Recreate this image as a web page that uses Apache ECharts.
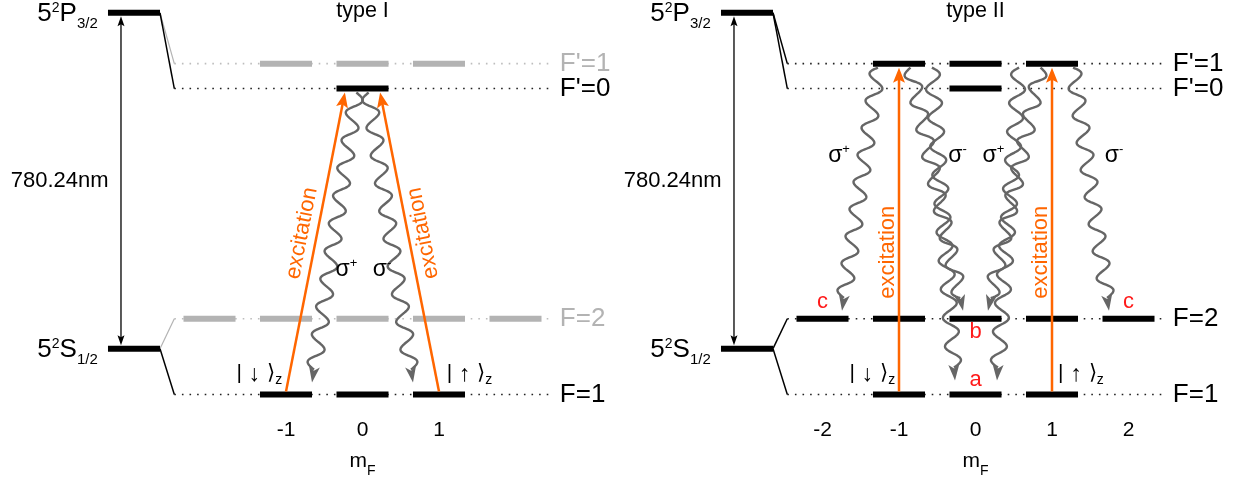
<!DOCTYPE html>
<html><head><meta charset="utf-8">
<script src="https://cdn.jsdelivr.net/npm/echarts@6/dist/echarts.min.js"></script>
<style>html,body{margin:0;padding:0;background:#fff}#c{width:1247px;height:483px}</style>
</head><body><div id="c"></div>
<script>
// ---------------- data ----------------
// hyperfine levels (schematic energy, arbitrary units)
const levelNames  = ["F'=1", "F'=0", "F=2", "F=1"];
const levelEnergy = [332, 307, 76, 0];
const levelParent = [0, 0, 1, 1];            // index into fine levels
// fine-structure levels: [n, 2S+1, L, J]
const fineTerms   = [["5", "2", "P", "3/2"], ["5", "2", "S", "1/2"]];
const fineEnergy  = [383, 46];
const wavelengthLabel = "780.24nm";

const panelTitles = ["type I", "type II"];
const mFTicks1 = [-1, 0, 1];
const mFTicks2 = [-2, -1, 0, 1, 2];
// Zeeman sub-levels: [m_F, level index]
const sublevels1 = [[-1,0],[0,0],[1,0],[0,1],[-2,2],[-1,2],[0,2],[1,2],[2,2],[-1,3],[0,3],[1,3]];
const sublevels2 = [[-1,0],[0,0],[1,0],[0,1],[-2,2],[-1,2],[0,2],[1,2],[2,2],[-1,3],[0,3],[1,3]];
const fadedLevels1 = [0, 2];
const fadedLevels2 = [];
// excitation: [m_F from, level from, m_F to, level to]
const excitation1 = [[-1, 3, -0.23, 1], [1, 3, 0.23, 1]];
const excitation2 = [[-1, 3, -1, 0], [1, 3, 1, 0]];
// spontaneous decay: [m_F from, level from, m_F to, level to]
const decay1 = [[-0.08, 1, -0.66, 3], [0.08, 1, 0.66, 3]];
const decay2 = [[-1.275, 0, -1.745, 2], [-0.85, 0, -0.163, 2], [-0.57, 0, -0.268, 3],
                [0.85, 0, 0.163, 2], [0.57, 0, 0.281, 3], [1.275, 0, 1.745, 2]];
// polarisation labels: [m_F, energy, sign]
const pol1 = [[-0.21, 124, "+"], [0.255, 124, "-"]];
const pol2 = [[-1.784, 238, "+"], [-0.235, 238, "-"], [0.235, 238, "+"], [1.81, 238, "-"]];
// state marks: [m_F, energy, text]
const marks1 = [];
const marks2 = [[-2, 93, "c"], [2, 93, "c"], [0, 63, "b"], [0, 15, "a"]];
// spin kets: [m_F, energy, arrow]
const kets1 = [[-1.05, 19, "↓"], [1.1, 19, "↑"]];
const kets2 = [[-1.05, 19, "↓"], [1.08, 19, "↑"]];

// ---------------- style / layout ----------------
const FONT = "'Liberation Sans', Arial, Helvetica, sans-serif";
const ORANGE = '#ff6600', WAVE = '#666666', GREY = '#b3b3b3', RED = '#ff1a1a';
const LAY = { fineL: -3.327, fineR: -2.647, hypStart: -2.46, dotEnd: 2.45, labelX: 2.58,
              vArrowX: -3.157, fineLabelX: -3.46, nmLabelX: -3.32, barHalf: 0.34 };

const panels = [
  { left: 209.5, title: panelTitles[0], ticks: mFTicks1, sublevels: sublevels1, faded: fadedLevels1,
    exc: excitation1, excSide: [-1, 1], excT: 0.52, excOff: 15, decay: decay1, decayPhase: [-1, 1],
    endGap: {2: 8, 3: 12}, pol: pol1, marks: marks1, kets: kets1 },
  { left: 822.5, title: panelTitles[1], ticks: mFTicks2, sublevels: sublevels2, faded: fadedLevels2,
    exc: excitation2, excSide: [-1, -1], excT: 0.43, excOff: 11.5, decay: decay2, decayPhase: [1, 1, -1, -1, 1, -1],
    endGap: {2: 8, 3: 14}, pol: pol2, marks: marks2, kets: kets2 }
];

function lineEl(a, b, stroke, lw, dash) {
  const s = { stroke, lineWidth: lw, lineCap: 'butt' };
  if (dash) s.lineDash = dash;
  return { type: 'line', shape: { x1: a[0], y1: a[1], x2: b[0], y2: b[1] }, style: s };
}
function headEl(tip, ux, uy, len, w, notch, fill) {
  const nx = -uy, ny = ux;
  const bx = tip[0] - ux * len, by = tip[1] - uy * len;
  const pts = [[tip[0], tip[1]], [bx + nx * w / 2, by + ny * w / 2],
               [tip[0] - ux * (len - notch), tip[1] - uy * (len - notch)], [bx - nx * w / 2, by - ny * w / 2]];
  return { type: 'polygon', shape: { points: pts }, style: { fill } };
}
function unit(a, b) { const dx = b[0]-a[0], dy = b[1]-a[1], l = Math.hypot(dx, dy); return [dx/l, dy/l, l]; }

function panelSeries(pi, p) {
  const base = { type: 'custom', xAxisIndex: pi, yAxisIndex: pi, silent: true, animation: false, clip: false };
  const S = [];
  // dotted hyperfine lines
  S.push(Object.assign({}, base, { z: 1, data: levelEnergy.map((E, i) => [E, i]),
    renderItem: (prm, api) => {
      const E = api.value(0), i = api.value(1), faded = p.faded.includes(i);
      return lineEl(api.coord([LAY.hypStart, E]), api.coord([LAY.dotEnd, E]), faded ? '#bdbdbd' : '#222', 1.6, [1.6, 6]);
    } }));
  // connectors fine -> hyperfine
  S.push(Object.assign({}, base, { z: 2, data: levelEnergy.map((E, i) => [fineEnergy[levelParent[i]], E, i]),
    renderItem: (prm, api) => {
      const i = api.value(2), faded = p.faded.includes(i);
      return lineEl(api.coord([LAY.fineR, api.value(0)]), api.coord([LAY.hypStart, api.value(1)]), faded ? GREY : '#000', faded ? 1.2 : 1.5);
    } }));
  // fine-structure bars + labels
  S.push(Object.assign({}, base, { z: 3, data: fineEnergy.map((E, i) => [E, i]),
    renderItem: (prm, api) => {
      const E = api.value(0), t = fineTerms[api.value(1)];
      const a = api.coord([LAY.fineL, E]), b = api.coord([LAY.fineR, E]);
      const lp = api.coord([LAY.fineLabelX, E]);
      return { type: 'group', children: [
        lineEl(a, b, '#000', 6),
        { type: 'text', x: lp[0], y: lp[1] - 11.5, style: {
          text: `{b|${t[0]}}{p|${t[1]}}{b|${t[2]}}{s|${t[3]}}`, align: 'right', verticalAlign: 'top', fill: '#000',
          rich: { b: { fontSize: 26, lineHeight: 26, verticalAlign: 'top', fontFamily: FONT, fill: '#000' },
                  p: { fontSize: 14, lineHeight: 26, verticalAlign: 'top', fontFamily: FONT, fill: '#000' },
                  s: { fontSize: 15, lineHeight: 26, verticalAlign: 'top', padding: [15.4, 0, 0, 0], fontFamily: FONT, fill: '#000' } } } }
      ] };
    } }));
  // 780 nm arrow + label
  S.push(Object.assign({}, base, { z: 3, data: [[fineEnergy[0], fineEnergy[1]]],
    renderItem: (prm, api) => {
      const top = api.coord([LAY.vArrowX, api.value(0)]), bot = api.coord([LAY.vArrowX, api.value(1)]);
      const t = [top[0], top[1] + 3.5], b = [bot[0], bot[1] - 3.5];
      const mid = api.coord([LAY.nmLabelX, (api.value(0) + api.value(1)) / 2]);
      return { type: 'group', children: [
        lineEl([t[0], t[1] + 6], [b[0], b[1] - 6], '#000', 1.3),
        headEl(t, 0, -1, 10, 7, 2, '#000'),
        headEl(b, 0, 1, 10, 7, 2, '#000'),
        { type: 'text', x: mid[0], y: mid[1], style: { text: wavelengthLabel, align: 'right', verticalAlign: 'middle', fontSize: 22, fontFamily: FONT, fill: '#000' } }
      ] };
    } }));
  // level labels
  S.push(Object.assign({}, base, { z: 3, data: levelEnergy.map((E, i) => [E, i]),
    renderItem: (prm, api) => {
      const i = api.value(1), faded = p.faded.includes(i);
      const c = api.coord([LAY.labelX, api.value(0)]);
      return { type: 'text', x: c[0], y: c[1], style: { text: levelNames[i], align: 'left', verticalAlign: 'middle', fontSize: 26, fontFamily: FONT, fill: faded ? GREY : '#000' } };
    } }));
  // title
  S.push(Object.assign({}, base, { z: 3, data: [[0, fineEnergy[0]]],
    renderItem: (prm, api) => {
      const c = api.coord([api.value(0), api.value(1)]);
      return { type: 'text', x: c[0], y: c[1] - 2, style: { text: p.title, align: 'center', verticalAlign: 'middle', fontSize: 21.5, fontFamily: FONT, fill: '#000' } };
    } }));
  // Zeeman sub-level bars
  S.push(Object.assign({}, base, { z: 4, data: p.sublevels.map(([m, li]) => [m, levelEnergy[li], li]),
    renderItem: (prm, api) => {
      const m = api.value(0), E = api.value(1), faded = p.faded.includes(api.value(2));
      return lineEl(api.coord([m - LAY.barHalf, E]), api.coord([m + LAY.barHalf, E]), faded ? GREY : '#000', 6);
    } }));
  // decay (wavy) arrows
  S.push(Object.assign({}, base, { z: 5, data: p.decay.map(([m0, l0, m1, l1], k) => [m0, levelEnergy[l0], m1, levelEnergy[l1], l1, k]),
    renderItem: (prm, api) => {
      const a0 = api.coord([api.value(0), api.value(1)]), a1 = api.coord([api.value(2), api.value(3)]);
      const gap = p.endGap[api.value(4)] || 10, ph = p.decayPhase[api.value(5)];
      const p0 = [a0[0], a0[1] + 4], p1 = [a1[0], a1[1] - gap];
      const [ux, uy, len] = unit(p0, p1);
      const nx = -uy, ny = ux, headLen = 16;
      const Lw = len - headLen + 3;
      const nh = Math.max(1, Math.round(Lw / 28 * 2)) / 2, wl = Lw / nh;
      const pts = [];
      const steps = Math.ceil(Lw / 1.2);
      for (let j = 0; j <= steps; j++) {
        const s = Lw * j / steps;
        const off = ph * 7.5 * Math.sin(2 * Math.PI * s / wl);
        pts.push([p0[0] + ux * s + nx * off, p0[1] + uy * s + ny * off]);
      }
      return { type: 'group', children: [
        { type: 'polyline', shape: { points: pts, smooth: 0 }, style: { stroke: WAVE, lineWidth: 2.4, fill: null, lineJoin: 'round' } },
        headEl(p1, ux, uy, headLen, 11, 4, WAVE)
      ] };
    } }));
  // excitation arrows
  S.push(Object.assign({}, base, { z: 6, data: p.exc.map(([m0, l0, m1, l1], k) => [m0, levelEnergy[l0], m1, levelEnergy[l1], k]),
    renderItem: (prm, api) => {
      const a0 = api.coord([api.value(0), api.value(1)]), a1 = api.coord([api.value(2), api.value(3)]);
      const k = api.value(4);
      const p0 = [a0[0], a0[1] - 3], p1 = [a1[0], a1[1] + 4];
      const [ux, uy, len] = unit(p0, p1);
      const nlx = uy, nly = -ux;     // left normal (screen)
      const q = [p0[0] + ux * len * p.excT, p0[1] + uy * len * p.excT];
      const side = p.excSide[k];
      const c = side < 0 ? [q[0] + nlx * p.excOff, q[1] + nly * p.excOff] : [q[0] - nlx * p.excOff, q[1] - nly * p.excOff];
      return { type: 'group', children: [
        lineEl(p0, [p1[0] - ux * 10, p1[1] - uy * 10], ORANGE, 2.5),
        headEl(p1, ux, uy, 15, 12, 3, ORANGE),
        { type: 'text', x: c[0], y: c[1], rotation: Math.atan2(-uy, ux),
          style: { text: 'excitation', align: 'center', verticalAlign: 'middle', fontSize: 22, fontFamily: FONT, fill: ORANGE } }
      ] };
    } }));
  // polarisation labels
  S.push(Object.assign({}, base, { z: 7, data: p.pol.map(([m, E], k) => [m, E, k]),
    renderItem: (prm, api) => {
      const c = api.coord([api.value(0), api.value(1)]), sgn = p.pol[api.value(2)][2];
      return { type: 'text', x: c[0], y: c[1] - 14, style: {
        text: `{s|σ}{p|${sgn}}`, align: 'center', verticalAlign: 'top', fill: '#000',
        rich: { s: { fontSize: 23, lineHeight: 23, verticalAlign: 'top', padding: [1, 0, 0, 0], fontFamily: FONT, fill: '#000' },
                p: { fontSize: 13, lineHeight: 23, verticalAlign: 'top', fontFamily: FONT, fill: '#000' } } } };
    } }));
  // state marks
  S.push(Object.assign({}, base, { z: 7, data: p.marks.map(([m, E], k) => [m, E, k]),
    renderItem: (prm, api) => {
      const c = api.coord([api.value(0), api.value(1)]);
      return { type: 'text', x: c[0], y: c[1], style: { text: p.marks[api.value(2)][2], align: 'center', verticalAlign: 'middle', fontSize: 22, fontFamily: FONT, fill: RED } };
    } }));
  // kets
  S.push(Object.assign({}, base, { z: 7, data: p.kets.map(([m, E], k) => [m, E, k]),
    renderItem: (prm, api) => {
      const m = api.value(0), c = api.coord([m, api.value(1)]), arr = p.kets[api.value(2)][2];
      return { type: 'text', x: c[0], y: c[1] - 12.4, style: {
        text: `{k|| }{a|${arr}}{k| ⟩}{z|z}`, align: m < 0 ? 'right' : 'left', verticalAlign: 'top', fill: '#000',
        rich: { k: { fontSize: 21, lineHeight: 22, verticalAlign: 'top', fontFamily: FONT, fill: '#000' },
                a: { fontSize: 23, lineHeight: 22, verticalAlign: 'top', padding: [0, 1, 0, 1], fontFamily: FONT, fill: '#000' },
                z: { fontSize: 14, lineHeight: 22, verticalAlign: 'top', padding: [9.6, 0, 0, 0], fontFamily: FONT, fill: '#000' } } } };
    } }));
  return S;
}

const chart = echarts.init(document.getElementById('c'), null, { renderer: 'canvas' });
const option = {
  backgroundColor: '#ffffff',
  animation: false,
  grid: panels.map(p => ({ left: p.left, width: 306, top: 12.8, height: 383 })),
  xAxis: panels.map((p, i) => ({
    type: 'value', gridIndex: i, min: -2, max: 2, interval: 1,
    axisLine: { show: false }, axisTick: { show: false }, splitLine: { show: false },
    axisLabel: { show: true, customValues: p.ticks, formatter: v => p.ticks.includes(v) ? String(v) : '',
                 margin: 25, fontSize: 21, lineHeight: 21, color: '#000', fontFamily: FONT, showMinLabel: true, showMaxLabel: true },
    name: '{m|m}{f|F}', nameLocation: 'middle', nameGap: 56,
    nameTextStyle: { rich: {
      m: { fontSize: 21, lineHeight: 21, verticalAlign: 'top', color: '#000', fontFamily: FONT },
      f: { fontSize: 14, lineHeight: 21, verticalAlign: 'top', padding: [13.5, 0, 0, 0], color: '#000', fontFamily: FONT } } }
  })),
  yAxis: panels.map((p, i) => ({ type: 'value', gridIndex: i, min: 0, max: 383, show: false })),
  series: panels.flatMap((p, i) => panelSeries(i, p))
};
chart.setOption(option);
</script>
</body></html>
